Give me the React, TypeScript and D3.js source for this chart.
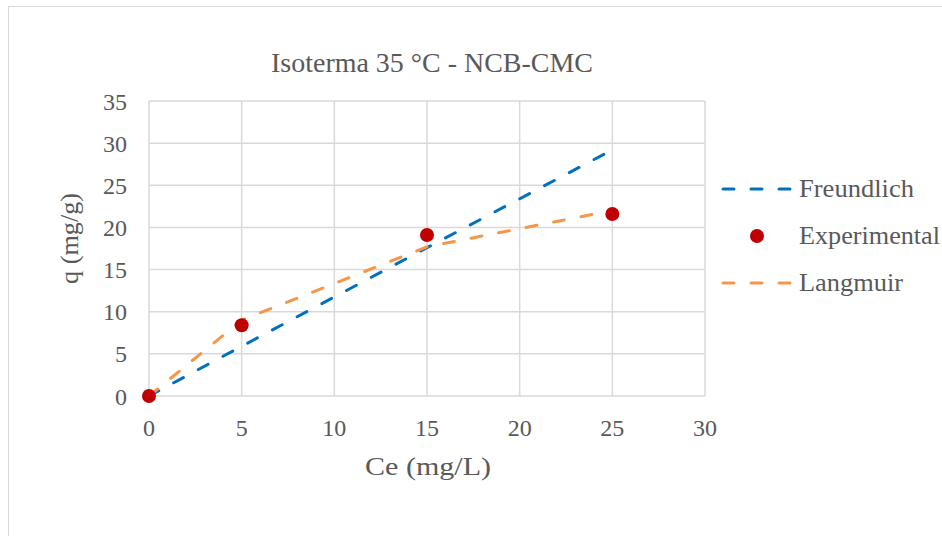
import React from "react";
import * as d3 from "d3";

const xTicks = [0, 5, 10, 15, 20, 25, 30];
const yTicks = [0, 5, 10, 15, 20, 25, 30, 35];
const ceValues = [0, 5, 15, 25];
const experimental = [0, 8.4, 19.1, 21.6];
const freundlich = [0, 5.9, 17.6, 29.2];
const langmuir = [0, 9.0, 17.7, 22.0];
const legendLabels = ["Freundlich", "Experimental", "Langmuir"];

const FONT = "'Liberation Serif', 'DejaVu Serif', serif";
const TEXT = "#595959";
const GRID = "#D9D9D9";
const BLUE = "#0070C0";
const ORANGE = "#F79646";
const RED = "#C00000";

export default function App() {
  const x = d3.scaleLinear().domain([0, 30]).range([149, 705]);
  const y = d3.scaleLinear().domain([0, 35]).range([396, 101]);
  const line = d3
    .line<[number, number]>()
    .x((d) => x(d[0]))
    .y((d) => y(d[1]));
  const fPts = ceValues.map((c, i) => [c, freundlich[i]] as [number, number]);
  const lPts = ceValues.map((c, i) => [c, langmuir[i]] as [number, number]);
  const dash = "11 17";
  const legendY = [189, 236, 283];
  const legendW = [115, 141, 104];
  return (
    <svg
      width={942}
      height={536}
      style={{ position: "absolute", left: 0, top: 0, background: "#fff" }}
      fontFamily={FONT}
    >
      <rect x={0} y={0} width={942} height={536} fill="#fff" />
      <rect x={8.5} y={6.5} width={960} height={560} fill="#fff" stroke={GRID} strokeWidth={1} />
      <text x={271} y={72} fontSize={27} fill={TEXT} textLength={322} lengthAdjust="spacingAndGlyphs">
        Isoterma 35 °C - NCB-CMC
      </text>
      {xTicks.map((t) => (
        <line key={"gx" + t} x1={x(t)} x2={x(t)} y1={y(35)} y2={y(0)} stroke={GRID} strokeWidth={1.5} />
      ))}
      {yTicks.map((t) => (
        <line key={"gy" + t} x1={x(0)} x2={x(30)} y1={y(t)} y2={y(t)} stroke={GRID} strokeWidth={1.5} />
      ))}
      {yTicks.map((t) => (
        <text key={"ty" + t} x={127} y={y(t) + 8.5} textAnchor="end" fontSize={24} fill={TEXT}>
          {t}
        </text>
      ))}
      {xTicks.map((t) => (
        <text key={"tx" + t} x={x(t)} y={436} textAnchor="middle" fontSize={24} fill={TEXT}>
          {t}
        </text>
      ))}
      <text x={365} y={475} fontSize={26} fill={TEXT} textLength={126} lengthAdjust="spacingAndGlyphs">
        Ce (mg/L)
      </text>
      <text
        transform={`translate(78,284) rotate(-90)`}
        fontSize={26}
        fill={TEXT}
        textLength={91}
        lengthAdjust="spacingAndGlyphs"
      >
        q (mg/g)
      </text>
      <path d={line(fPts) || ""} fill="none" stroke={BLUE} strokeWidth={3} strokeDasharray={dash} strokeLinecap="round" />
      <path d={line(lPts) || ""} fill="none" stroke={ORANGE} strokeWidth={3} strokeDasharray={dash} strokeLinecap="round" />
      {ceValues.map((c, i) => (
        <circle key={"p" + i} cx={x(c)} cy={y(experimental[i])} r={7} fill={RED} />
      ))}
      <g>
        <line x1={723} x2={791} y1={legendY[0]} y2={legendY[0]} stroke={BLUE} strokeWidth={3} strokeDasharray={dash} strokeLinecap="round" />
        <circle cx={757} cy={legendY[1]} r={7} fill={RED} />
        <line x1={723} x2={791} y1={legendY[2]} y2={legendY[2]} stroke={ORANGE} strokeWidth={3} strokeDasharray={dash} strokeLinecap="round" />
        {legendLabels.map((lab, i) => (
          <text
            key={lab}
            x={799}
            y={legendY[i] + 7.5}
            fontSize={25}
            fill={TEXT}
            textLength={legendW[i]}
            lengthAdjust="spacingAndGlyphs"
          >
            {lab}
          </text>
        ))}
      </g>
    </svg>
  );
}
